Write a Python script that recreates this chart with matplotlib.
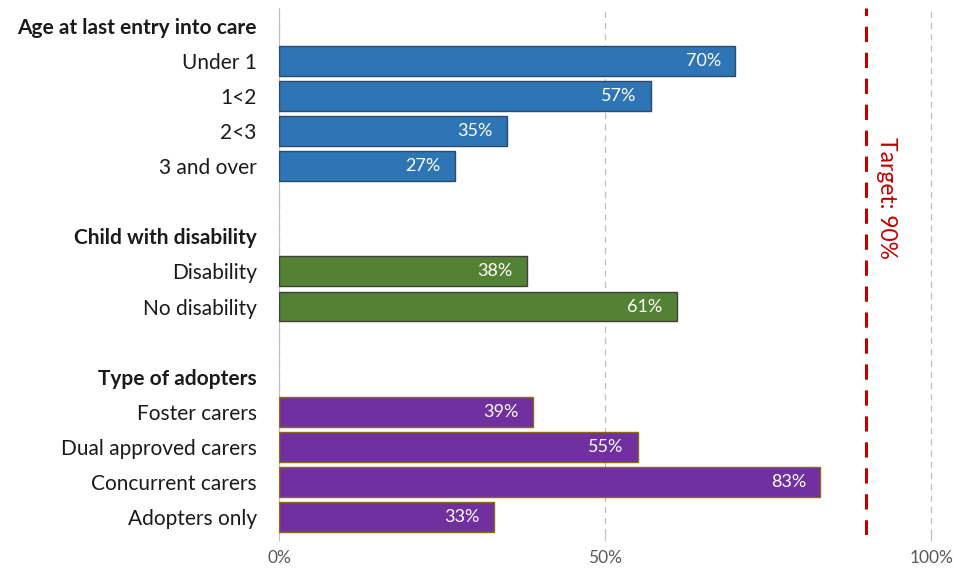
import matplotlib.pyplot as plt
from matplotlib.ticker import PercentFormatter

plt.rcParams['font.family'] = ['Lato', 'DejaVu Sans']

# Data
groups = ['Age at last entry into care', 'Child with disability', 'Type of adopters']
age_labels = ['Under 1', '1<2', '2<3', '3 and over']
age_values = [70, 57, 35, 27]
disability_labels = ['Disability', 'No disability']
disability_values = [38, 61]
adopter_labels = ['Foster carers', 'Dual approved carers', 'Concurrent carers', 'Adopters only']
adopter_values = [39, 55, 83, 33]
target = 90

colors = ['#2E75B6', '#548235', '#7030A0']
edges = ['#2F4A66', '#3F3F3F', '#8B6A10']

fig = plt.figure(figsize=(9.54, 5.69), dpi=100)
ax = fig.add_axes([0.2925, 0.06, 0.6835, 0.926])

# Build rows: header, items, blank
ticks, ticklabels, bold = [], [], []
pos = 0
sections = [(age_labels, age_values), (disability_labels, disability_values),
            (adopter_labels, adopter_values)]
for i, (labels, values) in enumerate(sections):
    ticks.append(pos)
    ticklabels.append(groups[i])
    bold.append(True)
    pos += 1
    ys = list(range(pos, pos + len(labels)))
    ax.barh(ys, values, height=0.85, color=colors[i], edgecolor=edges[i], linewidth=1, zorder=3)
    for y, v in zip(ys, values):
        ax.text(v - 2.2, y, f'{v}%', ha='right', va='center', color='white', fontsize=13, zorder=4)
    ticks += ys
    ticklabels += labels
    bold += [False] * len(labels)
    pos += len(labels) + 1

ax.set_yticks(ticks)
ax.set_yticklabels(ticklabels, fontsize=15, color='#1A1A1A')
for lab, b in zip(ax.get_yticklabels(), bold):
    if b:
        lab.set_fontweight('bold')
ax.tick_params(axis='y', length=0, pad=16)
ax.set_ylim(pos - 1.5, -0.5)

ax.set_xlim(0, 100)
ax.set_xticks([0, 50, 100])
ax.xaxis.set_major_formatter(PercentFormatter(decimals=0))
ax.tick_params(axis='x', colors='#BFBFBF', length=4, labelsize=12.5, labelcolor='#595959', pad=7)
ax.grid(axis='x', color='#BFBFBF', linestyle=(0, (5, 4)), linewidth=0.9, zorder=0)
for gl in ax.get_xgridlines():
    gl.set_clip_on(False)

for s in ['top', 'right', 'bottom']:
    ax.spines[s].set_visible(False)
ax.spines['left'].set_color('#BFBFBF')

# Target line
ax.axvline(target, color='#C00000', linestyle=(0, (5, 3.5)), linewidth=2.2, zorder=5)
ax.text(target + 3.2, 4.9, f'Target: {target}%', rotation=-90, ha='center', va='center',
        color='#C00000', fontsize=16.5)

fig.savefig('out.png', dpi=100)
